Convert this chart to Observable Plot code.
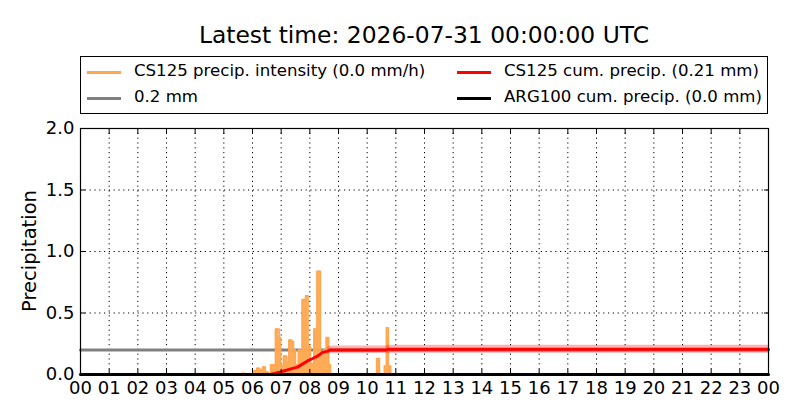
<!DOCTYPE html>
<html>
<head>
<meta charset="utf-8">
<script src="https://cdn.jsdelivr.net/npm/d3@7"></script>
<script src="https://cdn.jsdelivr.net/npm/@observablehq/plot@0.6"></script>
<style>
  html, body { margin: 0; padding: 0; background: #fff; }
  #wrap { position: relative; width: 800px; height: 420px; font-family: "DejaVu Sans", sans-serif; overflow: hidden; }
  #title { position: absolute; left: 30px; width: 788px; top: 19px; text-align: center; font-size: 23.4px; line-height: 32px; color: #000; }
  #legend { position: absolute; left: 80px; top: 56px; width: 686px; height: 56px; border: 1px solid #000; font-size: 16.6px; color: #000; }
  .item { position: absolute; height: 20px; line-height: 20px; white-space: nowrap; }
  .item .sw { position: absolute; left: 0; top: 9px; width: 34px; height: 3px; }
  .item .tx { position: absolute; left: 47px; top: 0; }
  #chart { position: absolute; left: 0; top: 118px; }
  #ylab { position: absolute; left: 29px; top: 251px; transform: translate(-50%, -50%) rotate(-90deg); font-size: 19.5px; white-space: nowrap; color: #000; }
</style>
</head>
<body>
<div id="wrap">
  <div id="title"></div>
  <div id="legend"></div>
  <div id="chart"></div>
  <div id="ylab"></div>
</div>
<script>
// ---- data ----
const titleText = "Latest time: 2026-07-31 00:00:00 UTC";
const legendLabels = ["CS125 precip. intensity (0.0 mm/h)", "0.2 mm", "CS125 cum. precip. (0.21 mm)", "ARG100 cum. precip. (0.0 mm)"];
const legendColors = ["#ffa64f", "#808080", "#ff0000", "#000000"];
const yLabel = "Precipitation";

const intensityHours = [0, 5.65, 5.72, 6.05, 6.15, 6.25, 6.35, 6.45, 6.55, 6.63, 6.80, 6.93, 6.98, 7.08, 7.20, 7.27, 7.36, 7.43, 7.50, 7.60, 7.73, 7.85, 7.94, 8.02, 8.14, 8.25, 8.37, 8.47, 8.57, 8.66, 8.72, 10.33, 10.43, 10.60, 10.67, 10.74, 10.82, 24];
const intensityValues = [0, 0.01, 0, 0.03, 0.05, 0.04, 0.06, 0.02, 0, 0.08, 0.37, 0.30, 0.07, 0.15, 0.10, 0.28, 0.27, 0.20, 0.08, 0.20, 0.61, 0.64, 0.23, 0.09, 0.37, 0.84, 0.15, 0.20, 0.30, 0.08, 0, 0.13, 0, 0.07, 0.38, 0.07, 0, 0];

const cumHours = [6.63, 6.98, 7.25, 7.57, 7.92, 8.10, 8.27, 8.45, 8.62, 8.72, 10.68, 10.72, 24];
const cumValues = [0, 0.02, 0.04, 0.06, 0.11, 0.13, 0.15, 0.18, 0.19, 0.20, 0.20, 0.205, 0.205];

const bandHours = [8.62, 8.72, 10.68, 10.72, 24];
const bandLow = [0.165, 0.17, 0.17, 0.172, 0.172];
const bandHigh = [0.22, 0.232, 0.232, 0.238, 0.238];

const thresholdHours = [0, 24];
const thresholdValues = [0.2, 0.2];

const argHours = [0, 24];
const argValues = [0, 0];

const xTicks = d3.range(0, 25);
const xTickLabels = xTicks.map(h => String(h % 24).padStart(2, "0"));
const yTicks = [0, 0.5, 1.0, 1.5, 2.0];

// ---- tables ----
const intensity = intensityHours.map((h, i) => ({h, v: intensityValues[i]}));
const cum = cumHours.map((h, i) => ({h, v: cumValues[i]}));
const band = bandHours.map((h, i) => ({h, lo: bandLow[i], hi: bandHigh[i]}));
const thr = thresholdHours.map((h, i) => ({h, v: thresholdValues[i]}));
const arg = argHours.map((h, i) => ({h, v: argValues[i]}));

document.getElementById("title").textContent = titleText;
document.getElementById("ylab").textContent = yLabel;
const legend = document.getElementById("legend");
const pos = [[6, 4], [6, 30], [376, 4], [376, 30]];
legendLabels.forEach((lab, i) => {
  const d = document.createElement("div");
  d.className = "item";
  d.style.left = pos[i][0] + "px";
  d.style.top = pos[i][1] + "px";
  const sw = document.createElement("div");
  sw.className = "sw";
  sw.style.background = legendColors[i];
  sw.style.top = "10px";
  const tx = document.createElement("div");
  tx.className = "tx";
  tx.textContent = lab;
  d.appendChild(sw); d.appendChild(tx);
  legend.appendChild(d);
});

const fmtX = h => xTickLabels[xTicks.indexOf(h)];
const grid = {stroke: "#000", strokeOpacity: 1, strokeWidth: 1, strokeDasharray: "1.2,3.6"};

const chart = Plot.plot({
  width: 800,
  height: 302,
  marginTop: 10,
  marginBottom: 46,
  marginLeft: 80,
  marginRight: 32,
  style: {fontFamily: "DejaVu Sans, sans-serif", fontSize: "18px", color: "#000", background: "#fff"},
  x: {domain: [0, 24]},
  y: {domain: [0, 2]},
  marks: [
    Plot.gridX(xTicks.filter(t => t > 0 && t < 24), grid),
    Plot.gridY(yTicks.filter(t => t > 0 && t < 2), grid),
    Plot.line(thr, {x: "h", y: "v", stroke: "#808080", strokeWidth: 3}),
    Plot.areaY(intensity, {x: "h", y: "v", curve: "step-after", fill: "#ffa64f", fillOpacity: 0.95}),
    Plot.line(intensity, {x: "h", y: "v", curve: "step-after", stroke: "#ffa64f", strokeWidth: 1.5}),
    Plot.areaY(band, {x: "h", y1: "lo", y2: "hi", fill: "#ff0000", fillOpacity: 0.3}),
    Plot.line(cum, {x: "h", y: "v", stroke: "#ff0000", strokeWidth: 3}),
    Plot.line(arg, {x: "h", y: "v", stroke: "#000", strokeWidth: 3}),
    Plot.frame({stroke: "#000", strokeWidth: 1.2}),
    Plot.axisX(xTicks, {anchor: "bottom", tickSize: -5, tickPadding: 12, tickFormat: fmtX, label: null, fontSize: 18}),
    Plot.axisX(xTicks, {anchor: "top", tickSize: -5, tickFormat: () => "", label: null}),
    Plot.axisY(yTicks, {anchor: "left", tickSize: -5, tickPadding: 11, tickFormat: d3.format(".1f"), label: null, fontSize: 18}),
    Plot.axisY(yTicks, {anchor: "right", tickSize: -5, tickFormat: () => "", label: null})
  ]
});
document.getElementById("chart").appendChild(chart);
</script>
</body>
</html>
